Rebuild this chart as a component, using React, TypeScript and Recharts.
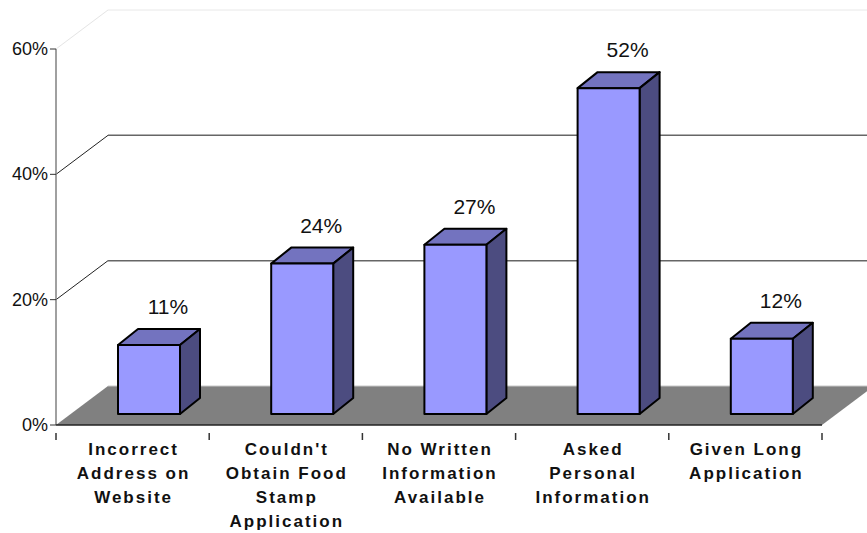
import { BarChart, Bar, XAxis, YAxis, LabelList } from "recharts";

const categories = [
  ["Incorrect", "Address on", "Website"],
  ["Couldn't", "Obtain Food", "Stamp", "Application"],
  ["No Written", "Information", "Available"],
  ["Asked", "Personal", "Information"],
  ["Given Long", "Application"],
];
const values = [11, 24, 27, 52, 12];
const yTicks = [0, 20, 40, 60];

const data = categories.map((lines, i) => ({
  name: lines.join(" "),
  value: values[i],
}));

// layout
const W = 867;
const H = 533;
const PLOT_LEFT = 56;
const PLOT_RIGHT = 822;
const WALL_DX = 52;
const WALL_DY = 39;
const BAR_SHIFT_X = 16;
const BAR_SHIFT_Y = 11;
const BAR_DX = 20;
const BAR_DY = 16;
const BAND = (PLOT_RIGHT - PLOT_LEFT) / categories.length;
const FONT = "Liberation Sans, Arial, sans-serif";

const FRONT = "#9999FF";
const TOP = "#7373BF";
const SIDE = "#4C4C80";

const MARGIN = { top: 49, right: W - PLOT_RIGHT, bottom: 8, left: 0 };

// back wall + floor, drawn in a chart underneath the bars
const WallTick = (props: any) => {
  const { y, payload } = props;
  const v = payload.value;
  const bx = PLOT_LEFT + WALL_DX;
  const by = y - WALL_DY;
  if (v === 0) {
    return (
      <g>
        <polygon
          points={`${PLOT_LEFT},${y} ${PLOT_RIGHT},${y} ${PLOT_RIGHT + WALL_DX},${by} ${bx},${by}`}
          fill="#808080"
        />
        <line x1={bx} y1={by} x2={W} y2={by} stroke="#c8c8c8" strokeWidth={1} />
      </g>
    );
  }
  const faint = v === 60;
  return (
    <g>
      <line x1={PLOT_LEFT} y1={y} x2={bx} y2={by} stroke={faint ? "#e4e4e4" : "#222"} strokeWidth={1} />
      <line
        x1={bx}
        y1={by}
        x2={W}
        y2={by}
        stroke={faint ? "#e8e8e8" : "#666"}
        strokeWidth={faint ? 1 : 1.5}
      />
    </g>
  );
};

const ValueTick = (props: any) => {
  const { y, payload } = props;
  return (
    <g>
      <line x1={PLOT_LEFT - 6} y1={y} x2={PLOT_LEFT} y2={y} stroke="#333" strokeWidth={1} />
      <text x={PLOT_LEFT - 8} y={y + 6} textAnchor="end" fontFamily={FONT} fontSize={18} fill="#111">
        {payload.value}%
      </text>
    </g>
  );
};

const CategoryTick = (props: any) => {
  const { x, y, index } = props;
  const lines = categories[index] || [];
  return (
    <g>
      <line x1={x - BAND / 2} y1={y} x2={x - BAND / 2} y2={y + 7} stroke="#333" strokeWidth={1.5} />
      {index === categories.length - 1 && (
        <line x1={x + BAND / 2} y1={y} x2={x + BAND / 2} y2={y + 7} stroke="#333" strokeWidth={1.5} />
      )}
      <text
        x={x}
        y={y + 22}
        textAnchor="middle"
        fontFamily={FONT}
        fontWeight="bold"
        fontSize={17}
        letterSpacing={2}
        fill="#111"
      >
        {lines.map((l, i) => (
          <tspan key={i} x={x + 1} dy={i === 0 ? 0 : 24}>
            {l}
          </tspan>
        ))}
      </text>
    </g>
  );
};

const Bar3D = (props: any) => {
  const { x, y, width, height } = props;
  const fx = x + BAR_SHIFT_X;
  const fy = y - BAR_SHIFT_Y;
  const r = fx + width;
  const b = fy + height;
  return (
    <g stroke="#000" strokeWidth={2} strokeLinejoin="round">
      <polygon
        points={`${fx},${fy} ${fx + BAR_DX},${fy - BAR_DY} ${r + BAR_DX},${fy - BAR_DY} ${r},${fy}`}
        fill={TOP}
      />
      <polygon
        points={`${r},${fy} ${r + BAR_DX},${fy - BAR_DY} ${r + BAR_DX},${b - BAR_DY} ${r},${b}`}
        fill={SIDE}
      />
      <rect x={fx} y={fy} width={width} height={height} fill={FRONT} />
    </g>
  );
};

const NoBar = () => <g />;

const ValueLabel = (props: any) => {
  const { x, y, width, value } = props;
  return (
    <text
      x={x + width / 2 + BAR_SHIFT_X + 19}
      y={y - 42}
      textAnchor="middle"
      fontFamily={FONT}
      fontSize={21}
      fill="#111"
    >
      {value}%
    </text>
  );
};

const layer = { position: "absolute" as const, left: 0, top: 0 };

export default function App() {
  return (
    <div style={{ ...layer, width: W, height: H, background: "#fff" }}>
      <div style={layer}>
        <BarChart width={W} height={H} data={data} margin={MARGIN}>
          <YAxis
            width={PLOT_LEFT}
            domain={[0, 60]}
            ticks={yTicks}
            interval={0}
            tick={<WallTick />}
            tickLine={false}
            axisLine={false}
          />
          <XAxis dataKey="name" height={100} tick={false} tickLine={false} axisLine={false} />
          <Bar dataKey="value" barSize={62} shape={<NoBar />} isAnimationActive={false} />
        </BarChart>
      </div>
      <div style={layer}>
        <BarChart width={W} height={H} data={data} margin={MARGIN}>
          <YAxis
            width={PLOT_LEFT}
            domain={[0, 60]}
            ticks={yTicks}
            interval={0}
            tick={<ValueTick />}
            tickLine={false}
            axisLine={{ stroke: "#808080", strokeWidth: 1.5 }}
          />
          <XAxis
            dataKey="name"
            height={100}
            interval={0}
            tick={<CategoryTick />}
            tickLine={false}
            axisLine={{ stroke: "#222", strokeWidth: 1.5 }}
          />
          <Bar dataKey="value" barSize={62} shape={<Bar3D />} isAnimationActive={false}>
            <LabelList dataKey="value" content={<ValueLabel />} />
          </Bar>
        </BarChart>
      </div>
    </div>
  );
}
